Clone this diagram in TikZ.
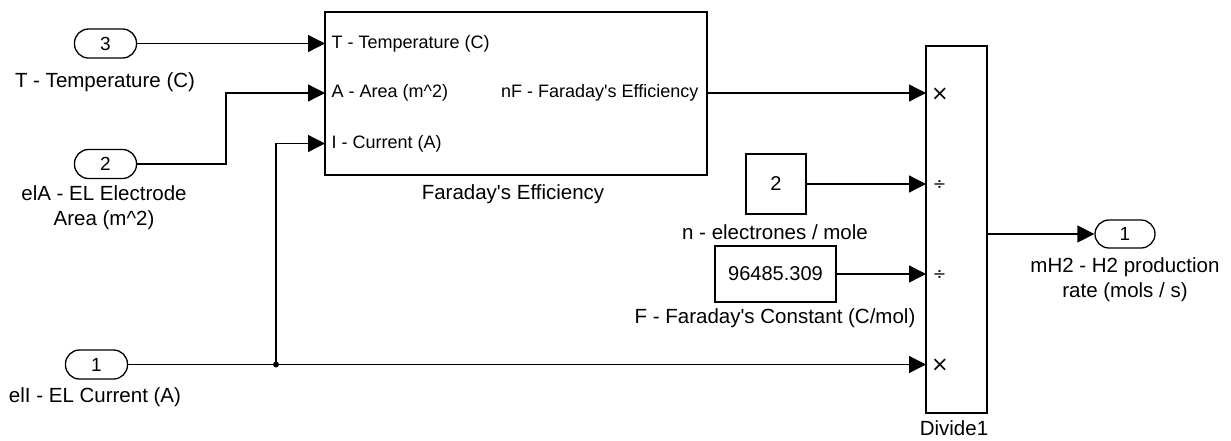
\documentclass[tikz,border=0pt]{standalone}
\usepackage{fontspec}
\setmainfont{Liberation Sans}
\newfontfamily\symfont{DejaVu Sans}
\usetikzlibrary{arrows.meta}
\begin{document}
\begin{tikzpicture}[x=1pt,y=-1pt,
  line width=1.3pt,
  port/.style={draw, rounded corners=14pt, minimum width=62pt, minimum height=29pt, inner sep=0pt, font=\fontsize{19}{19}\selectfont},
  blk/.style={draw, inner sep=0pt, font=\fontsize{20}{20}\selectfont},
  lbl/.style={font=\fontsize{20.5}{25}\selectfont, align=center, inner sep=0pt},
  inlbl/.style={font=\fontsize{18}{20}\selectfont, inner sep=0pt},
  sig/.style={-{Triangle[length=17pt,width=17pt]}},
  mulsign/.style={font=\symfont\fontsize{21}{21}\selectfont, inner sep=0pt},
  divsign/.style={font=\symfont\fontsize{16}{16}\selectfont, inner sep=0pt},
]
\useasboundingbox (0,0) rectangle (1231,440);

% inports
\node[port] (in3) at (105.5,43.5) {3};
\node[lbl] (in3l) at (105,82) {T - Temperature (C)};
\node[port] (in2) at (105.5,164) {2};
\node[lbl] (in2l) at (104,208) {elA - EL Electrode\\Area (m\textasciicircum 2)};
\node[port] (in1) at (96.5,364.5) {1};
\node[lbl] (in1l) at (95,397) {elI - EL Current (A)};

% Faraday's Efficiency subsystem
\node[blk, minimum width=382pt, minimum height=163pt] (fe) at (516,93.5) {};
\coordinate (feT) at (325,43.5);
\coordinate (feA) at (325,93);
\coordinate (feI) at (325,143.5);
\coordinate (feO) at (707,93);
\node[inlbl, anchor=west] (feTl) at (331,43.5) {T - Temperature (C)};
\node[inlbl, anchor=west] (feAl) at (331,93) {A - Area (m\textasciicircum 2)};
\node[inlbl, anchor=west] (feIl) at (331,143.5) {I - Current (A)};
\node[inlbl, anchor=east] (feOl) at (699,93) {nF - Faraday\textquotesingle s Efficiency};
\node[lbl] (fel) at (513,194) {Faraday\textquotesingle s Efficiency};

% constants
\node[blk, minimum width=60pt, minimum height=60pt] (c2) at (776,184) {2};
\node[lbl] (c2l) at (775,232) {n - electrones / mole};
\node[blk, minimum width=121pt, minimum height=56pt] (cF) at (775.5,274) {96485.309};
\node[lbl] (cFl) at (775,318) {F - Faraday\textquotesingle s Constant (C/mol)};

% Divide block
\node[blk, minimum width=61pt, minimum height=367pt] (div) at (956.5,229.5) {};
\coordinate (d1) at (926,93);
\coordinate (d2) at (926,184);
\coordinate (d3) at (926,274);
\coordinate (d4) at (926,364.5);
\coordinate (dO) at (987,234);
\node[mulsign] (s1) at (940,94) {×};
\node[divsign] (s2) at (939.5,185) {÷};
\node[divsign] (s3) at (939.5,275) {÷};
\node[mulsign] (s4) at (940,365.5) {×};
\node[lbl] (divl) at (954,428) {Divide1};

% outport
\node[port, minimum width=60pt, minimum height=28pt] (out1) at (1125,234) {1};
\node[lbl] (outl) at (1125,280) {mH2 - H2 production\\rate (mols / s)};

% connectors
\draw[sig] (in3.east) -- (feT);
\coordinate (bendA) at (226,164);
\draw[sig] (in2.east) -- (bendA) |- (feA);
\coordinate (br) at (276,364.5);
\draw[sig] (in1.east) -- (d4);
\fill (br) circle (3pt);
\draw[sig] (br) |- (feI);
\draw[sig] (feO) -- (d1);
\draw[sig] (c2.east) -- (d2);
\draw[sig] (cF.east) -- (d3);
\draw[sig] (dO) -- (out1.west);
\end{tikzpicture}
\end{document}
